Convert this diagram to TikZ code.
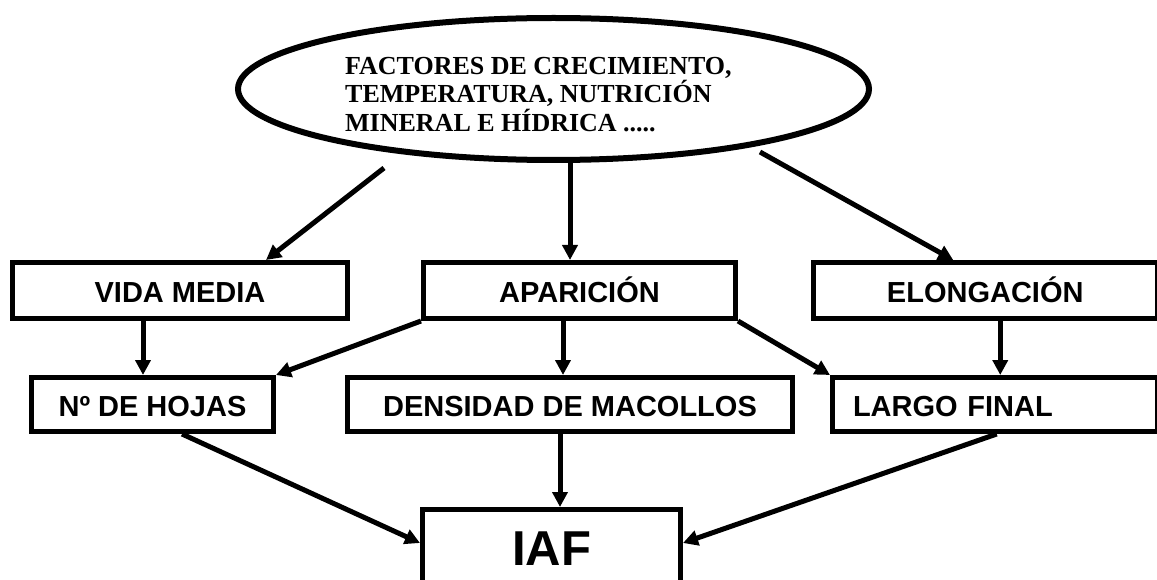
\documentclass[tikz,border=0pt]{standalone}
\usepackage{fontspec}
\setmainfont{Liberation Serif}
\newfontfamily\arialf{Liberation Sans}
\usetikzlibrary{shapes.geometric,arrows.meta}
\begin{document}
\begin{tikzpicture}[x=1pt,y=-1pt,
  box/.style={draw,line width=5pt,inner sep=0pt,text height=23pt,text depth=0pt,
    font=\arialf\bfseries\fontsize{29}{34}\selectfont},
  rowa/.style={box,minimum height=56pt},
  rowb/.style={box,minimum height=54pt},
  arr/.style={line width=5pt,-{Triangle[length=15pt,width=15pt]}},
  ]
\clip (0,0) rectangle (1157,580);
\fill[white] (0,0) rectangle (1157,580);
% ellipse
\node[draw,ellipse,line width=6pt,minimum width=631pt,minimum height=142pt] (ell) at (553.5,89) {};
\node[anchor=north west,inner sep=0pt,align=left,
  font=\bfseries\fontsize{26}{28.5}\selectfont] (ftext) at (345,57)
  {FACTORES DE CRECIMIENTO,\\TEMPERATURA, NUTRICIÓN\\MINERAL E HÍDRICA .....};
% row 1
\node[rowa,minimum width=335pt] (vida) at (180,290.5) {VIDA MEDIA};
\node[rowa,minimum width=312pt] (apar) at (579.5,290.5) {APARICIÓN};
\node[rowa,minimum width=343.5pt] (elong) at (985.25,290.5) {ELONGACIÓN};
% row 2
\node[rowb,minimum width=242pt] (nh) at (152.5,404.5) {Nº DE HOJAS};
\node[rowb,minimum width=445pt] (dens) at (570,404.5) {DENSIDAD DE MACOLLOS};
\node[rowb,minimum width=324.5pt,text width=324.5pt,align=left] (largo) at (994.75,404.5) {\hspace*{20.5pt}LARGO FINAL};
% IAF
\node[draw,line width=5pt,minimum width=258pt,minimum height=76pt,inner sep=0pt,
  text height=35pt,text depth=0pt,
  font=\arialf\bfseries\fontsize{49}{56}\selectfont] (iaf) at (551.5,547.5) {IAF};
% connectors
\coordinate (c1) at (384,168);
\coordinate (c3) at (760,152);
\draw[arr] (c1) -- ([xshift=86pt]vida.north);
\draw[arr] ([xshift=16.5pt]ell.south) -- ([xshift=16.5pt]ell.south |- apar.north);
\draw[arr] (c3) -- ([xshift=-32pt]elong.north);
\draw[arr] ([xshift=-37pt]vida.south) -- ([xshift=-37pt]vida.south |- nh.north);
\draw[arr] (apar.south west) -- (nh.north east);
\draw[arr] ([xshift=-16.5pt]apar.south) -- ([xshift=-16.5pt]apar.south |- dens.north);
\draw[arr] (apar.south east) -- (largo.north west);
\draw[arr] ([xshift=15pt]elong.south) -- ([xshift=15pt]elong.south |- largo.north);
\draw[arr] ([xshift=29.5pt]nh.south) -- ([yshift=4.5pt]iaf.west);
\draw[arr] ([xshift=-10pt]dens.south) -- ([xshift=-10pt]dens.south |- iaf.north);
\draw[arr] ([xshift=2pt]largo.south) -- ([yshift=4.5pt]iaf.east);
\end{tikzpicture}
\end{document}
